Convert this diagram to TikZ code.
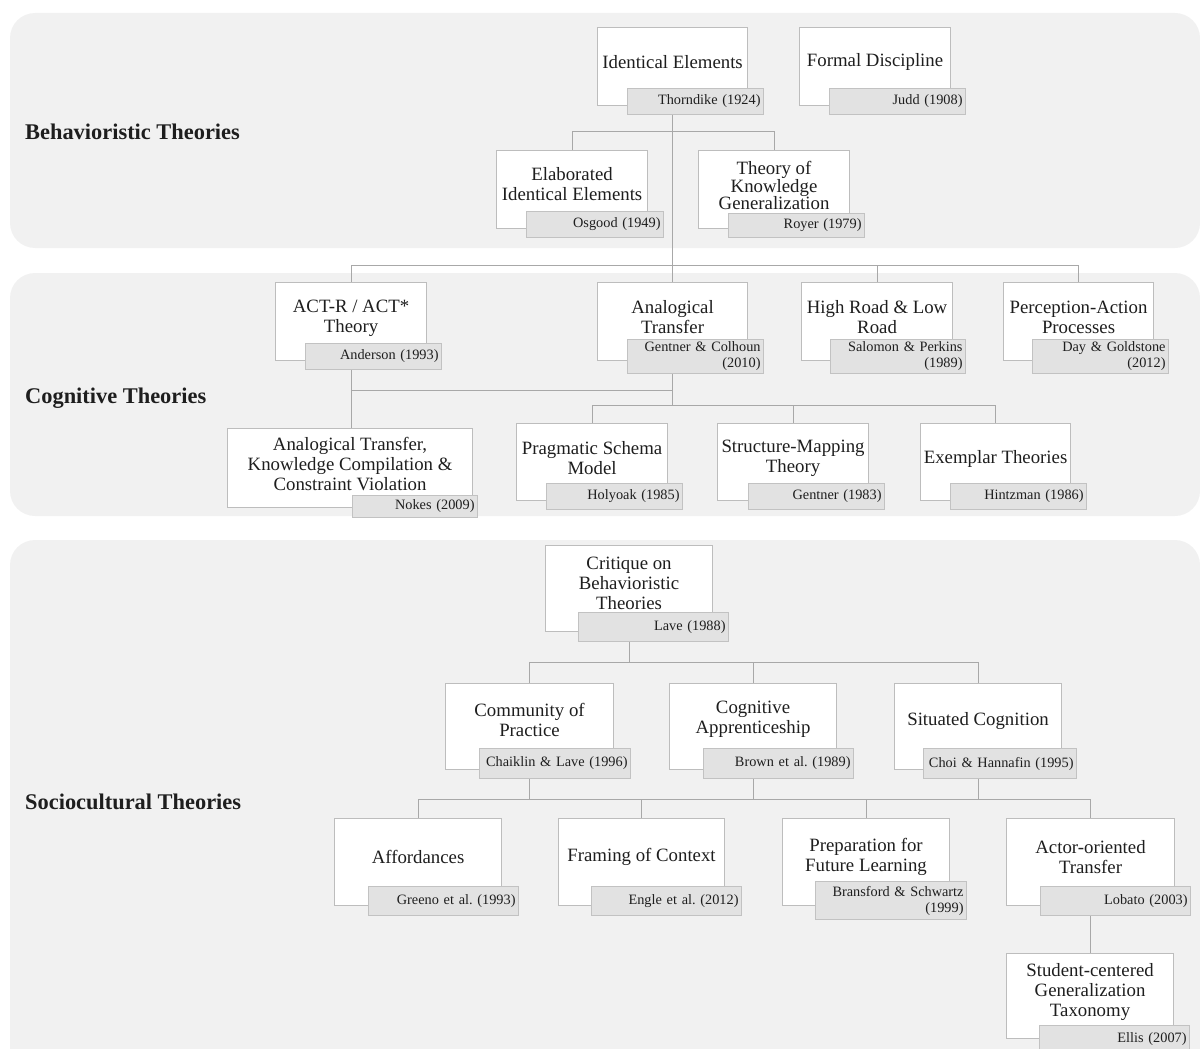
\documentclass[tikz,border=0pt]{standalone}
\usepackage{fontspec}
\setmainfont{Liberation Serif}
\frenchspacing
\pgfdeclarelayer{panels}
\pgfdeclarelayer{links}
\pgfsetlayers{panels,links,main}
\definecolor{panelgray}{HTML}{F1F1F1}
\definecolor{boxline}{HTML}{BDBDBD}
\definecolor{citefill}{HTML}{E2E2E2}
\definecolor{citeline}{HTML}{C2C2C2}
\definecolor{linkgray}{HTML}{A8A8A8}
\definecolor{ink}{HTML}{1E1E1E}
\begin{document}
\begin{tikzpicture}[x=1pt,y=-1pt,
  panel/.style={fill=panelgray,draw=none,rounded corners=25pt},
  wb/.style 2 args={draw=boxline,fill=white,line width=1.1pt,anchor=north west,
    inner sep=0pt,minimum width=#1pt,minimum height=#2pt},
  ct/.style 2 args={draw=citeline,fill=citefill,line width=1.1pt,anchor=north west,
    inner xsep=3pt,inner ysep=0pt,align=right,text width=#1pt,minimum height=#2pt,
    text=ink,font=\fontsize{14.3}{16}\selectfont},
  ttl/.style={align=center,inner sep=0pt,text=ink,font=\fontsize{18.8}{20}\selectfont},
  ttltight/.style={align=center,inner sep=0pt,text=ink,font=\fontsize{18.8}{17.5}\selectfont},
  sect/.style={anchor=west,inner sep=0pt,text=ink,font=\bfseries\fontsize{22.4}{24}\selectfont},
  link/.style={draw=linkgray,line width=1pt}]

\useasboundingbox (0,0) rectangle (1200,1049);

% section panels
\begin{pgfonlayer}{panels}
  \fill[panel] (10,13) rectangle (1200,248);
  \fill[panel] (10,273) rectangle (1200,516);
  \fill[panel] (10,540) rectangle (1200,1090);
\end{pgfonlayer}

\node[sect] (s1) at (25,132) {Behavioristic Theories};
\node[sect] (s2) at (25,398) {Cognitive Theories};
\node[sect] (s3) at (25,802) {Sociocultural Theories};

% bus levels
\coordinate (b1) at (0,131);
\coordinate (b2) at (0,265);
\coordinate (b3a) at (0,390);
\coordinate (b3b) at (0,405);
\coordinate (b4) at (0,662);
\coordinate (b5) at (0,799);

% ---- behavioristic
\node[wb={150}{78}] (ie) at (597,27) {};
\node[ttl] (ie-t) at ([yshift=4.5pt]ie.center) {Identical Elements};
\node[ct={130}{26}] (ie-c) at (627,88) {Thorndike (1924)};

\node[wb={151}{78}] (fd) at (799,27) {};
\node[ttl] (fd-t) at ([yshift=4.5pt]fd.center) {Formal Discipline};
\node[ct={130}{26}] (fd-c) at (829,88) {Judd (1908)};

\node[wb={151}{78}] (eie) at (496,150) {};
\node[ttl] (eie-t) at ([yshift=5pt]eie.center) {Elaborated\\Identical Elements};
\node[ct={131}{26}] (eie-c) at (526,211) {Osgood (1949)};

\node[wb={151}{78}] (tkg) at (698,150) {};
\node[ttltight] (tkg-t) at ([yshift=4pt]tkg.center) {Theory of\\Knowledge\\Generalization};
\node[ct={130}{24}] (tkg-c) at (728,213) {Royer (1979)};

% ---- cognitive
\node[wb={151}{78}] (act) at (275,282) {};
\node[ttl] (act-t) at ([yshift=3pt]act.center) {ACT-R / ACT*\\Theory};
\node[ct={130}{26}] (act-c) at (305,343) {Anderson (1993)};

\node[wb={150}{78}] (at) at (597,282) {};
\node[ttl] (at-t) at ([yshift=4pt]at.center) {Analogical\\Transfer};
\node[ct={130}{34}] (at-c) at (627,339) {Gentner \& Colhoun\\(2010)};

\node[wb={151}{78}] (hr) at (801,282) {};
\node[ttl] (hr-t) at ([yshift=4pt]hr.center) {High Road \& Low\\Road};
\node[ct={129}{34}] (hr-c) at (830,339) {Salomon \& Perkins\\(1989)};

\node[wb={150}{78}] (pa) at (1003,282) {};
\node[ttl] (pa-t) at ([yshift=4pt]pa.center) {Perception-Action\\Processes};
\node[ct={130}{34}] (pa-c) at (1032,339) {Day \& Goldstone\\(2012)};

\node[wb={245}{79}] (nk) at (227,428) {};
\node[ttl] (nk-t) at ([yshift=4.5pt]nk.center) {Analogical Transfer,\\Knowledge Compilation \&\\Constraint Violation};
\node[ct={119}{22}] (nk-c) at (352,495) {Nokes (2009)};

\node[wb={151}{77}] (psm) at (516,423) {};
\node[ttl] (psm-t) at ([yshift=4pt]psm.center) {Pragmatic Schema\\Model};
\node[ct={130}{26}] (psm-c) at (546,483) {Holyoak (1985)};

\node[wb={151}{77}] (smt) at (717,423) {};
\node[ttl] (smt-t) at ([yshift=4pt]smt.center) {Structure-Mapping\\Theory};
\node[ct={130}{26}] (smt-c) at (748,483) {Gentner (1983)};

\node[wb={150}{77}] (ex) at (920,423) {};
\node[ttl] (ex-t) at ([yshift=3.5pt]ex.center) {Exemplar Theories};
\node[ct={130}{26}] (ex-c) at (950,483) {Hintzman (1986)};

% ---- sociocultural
\node[wb={167}{86}] (cbt) at (545,545) {};
\node[ttl] (cbt-t) at ([yshift=5pt]cbt.center) {Critique on\\Behavioristic\\Theories};
\node[ct={144}{29}] (cbt-c) at (578,612) {Lave (1988)};

\node[wb={168}{86}] (cop) at (445,683) {};
\node[ttl] (cop-t) at ([yshift=7pt]cop.center) {Community of\\Practice};
\node[ct={145}{30}] (cop-c) at (479,748) {Chaiklin \& Lave (1996)};

\node[wb={167}{86}] (ca) at (669,683) {};
\node[ttl] (ca-t) at ([yshift=7pt]ca.center) {Cognitive\\Apprenticeship};
\node[ct={144}{30}] (ca-c) at (703,748) {Brown et al. (1989)};

\node[wb={167}{86}] (sc) at (894,683) {};
\node[ttl] (sc-t) at ([yshift=6pt]sc.center) {Situated Cognition};
\node[ct={147}{30}] (sc-c) at (923,748) {Choi \& Hannafin (1995)};

\node[wb={167}{87}] (aff) at (334,818) {};
\node[ttl] (aff-t) at ([yshift=5pt]aff.center) {Affordances};
\node[ct={144}{29}] (aff-c) at (368,886) {Greeno et al. (1993)};

\node[wb={166}{87}] (foc) at (558,818) {};
\node[ttl] (foc-t) at ([yshift=5pt]foc.center) {Framing of Context};
\node[ct={144}{29}] (foc-c) at (591,886) {Engle et al. (2012)};

\node[wb={167}{87}] (pfl) at (782,818) {};
\node[ttl] (pfl-t) at ([yshift=5pt]pfl.center) {Preparation for\\Future Learning};
\node[ct={145}{38}] (pfl-c) at (815,881) {Bransford \& Schwartz\\(1999)};

\node[wb={168}{87}] (aot) at (1006,818) {};
\node[ttl] (aot-t) at ([yshift=5pt]aot.center) {Actor-oriented\\Transfer};
\node[ct={144}{29}] (aot-c) at (1040,886) {Lobato (2003)};

\node[wb={167}{85}] (sgt) at (1006,953) {};
\node[ttl] (sgt-t) at ([yshift=4pt]sgt.center) {Student-centered\\Generalization\\Taxonomy};
\node[ct={144}{28}] (sgt-c) at (1039,1025) {Ellis (2007)};

% ---- connectors
\begin{pgfonlayer}{links}
  \draw[link] (ie.south) -- (at.north);
  \draw[link] (eie.north) -- (eie.north |- b1) -- (tkg.north |- b1) -- (tkg.north);
  \draw[link] (act.north) -- (act.north |- b2) -- (pa.north |- b2) -- (pa.north);
  \draw[link] (hr.north) -- (hr.north |- b2);

  \draw[link] (act.south) -- (act.south |- nk.north);
  \draw[link] (at.south) -- (at.south |- b3b);
  \draw[link] (at.south |- b3a) -- (act.south |- b3a);
  \draw[link] (psm.north) -- (psm.north |- b3b) -- (ex.north |- b3b) -- (ex.north);
  \draw[link] (smt.north) -- (smt.north |- b3b);

  \draw[link] (cbt.south) -- (cbt.south |- b4);
  \draw[link] (cop.north) -- (cop.north |- b4) -- (sc.north |- b4) -- (sc.north);
  \draw[link] (ca.north) -- (ca.north |- b4);
  \draw[link] (cop.south) -- (cop.south |- b5);
  \draw[link] (ca.south) -- (ca.south |- b5);
  \draw[link] (sc.south) -- (sc.south |- b5);
  \draw[link] (aff.north) -- (aff.north |- b5) -- (aot.north |- b5) -- (aot.north);
  \draw[link] (foc.north) -- (foc.north |- b5);
  \draw[link] (pfl.north) -- (pfl.north |- b5);
  \draw[link] (aot.south) -- (aot.south |- sgt.north);
\end{pgfonlayer}
\end{tikzpicture}
\end{document}
